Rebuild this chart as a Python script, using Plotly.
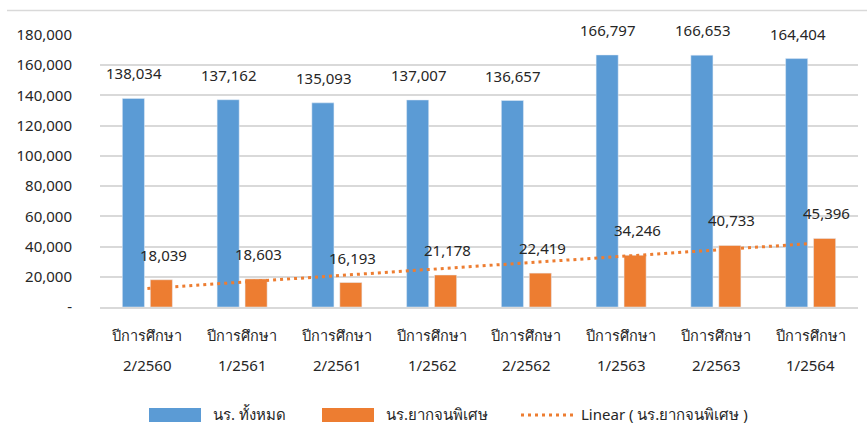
import numpy as np
import plotly.graph_objects as go

# ---- data ----
term_prefix = "ปีการศึกษา"
terms = ["2/2560", "1/2561", "2/2561", "1/2562", "2/2562", "1/2563", "2/2563", "1/2564"]
total_students = [138034, 137162, 135093, 137007, 136657, 166797, 166653, 164404]
poor_students = [18039, 18603, 16193, 21178, 22419, 34246, 40733, 45396]
y_tickvals = [0, 20000, 40000, 60000, 80000, 100000, 120000, 140000, 160000, 180000]
y_ticktext = ["-", "20,000", "40,000", "60,000", "80,000", "100,000", "120,000", "140,000", "160,000", "180,000"]
legend_names = ["นร. ทั้งหมด", "นร.ยากจนพิเศษ", "Linear ( นร.ยากจนพิเศษ )"]

BLUE = "#5B9BD5"
ORANGE = "#ED7D31"
TXT = "#262626"
FONT = "Noto Sans, DejaVu Sans, sans-serif"

# linear trend (least squares, like Excel's linear trendline)
xi = np.arange(1, len(poor_students) + 1)
slope, intercept = np.polyfit(xi, np.array(poor_students, dtype=float), 1)
trend = slope * xi + intercept

W, H = 867, 443
ML, MR, MT, MB = 100, 9, 35, 136
pw, ph = W - ML - MR, H - MT - MB


def px(x):
    return (x - ML) / pw


def py(y):
    return (H - MB - y) / ph


fig = go.Figure()
fig.add_trace(go.Bar(x=terms, y=total_students, name=legend_names[0],
                     marker=dict(color=BLUE), showlegend=False))
fig.add_trace(go.Bar(x=terms, y=poor_students, name=legend_names[1],
                     marker=dict(color=ORANGE), showlegend=False))
fig.add_trace(go.Scatter(x=terms, y=trend, mode="lines", name=legend_names[2],
                         line=dict(color=ORANGE, width=3, dash="3px,4px"),
                         showlegend=False))

ann = []
for t, v in zip(terms, total_students):
    ann.append(dict(x=t, y=v, xref="x", yref="y", text=f"{v:,}", showarrow=False,
                    xshift=-13, yshift=25, yanchor="middle",
                    font=dict(size=15, color=TXT, family=FONT)))
for t, v in zip(terms, poor_students):
    ann.append(dict(x=t, y=v, xref="x", yref="y", text=f"{v:,}", showarrow=False,
                    xshift=16, yshift=25, yanchor="middle",
                    font=dict(size=15, color=TXT, family=FONT)))
# two-line category labels
for t in terms:
    ann.append(dict(x=t, y=0, xref="x", yref="paper", text=term_prefix, showarrow=False,
                    yshift=-28, yanchor="middle",
                    font=dict(size=14.5, color=TXT, family=FONT)))
    ann.append(dict(x=t, y=0, xref="x", yref="paper", text=t, showarrow=False,
                    yshift=-58, yanchor="middle",
                    font=dict(size=15, color=TXT, family=FONT)))

# manual legend
shapes = [
    dict(type="rect", xref="paper", yref="paper", x0=px(149), x1=px(201), y0=py(422), y1=py(408),
         fillcolor=BLUE, line=dict(width=0)),
    dict(type="rect", xref="paper", yref="paper", x0=px(322), x1=px(374), y0=py(422), y1=py(408),
         fillcolor=ORANGE, line=dict(width=0)),
    dict(type="line", xref="paper", yref="paper", x0=px(521), x1=px(573), y0=py(415), y1=py(415),
         line=dict(color=ORANGE, width=3, dash="3px,4px")),
    dict(type="line", xref="paper", yref="paper", x0=px(7), x1=px(867), y0=py(10.5), y1=py(10.5),
         line=dict(color="#D9D9D9", width=1.5)),
]
for xpos, name in zip([211, 384, 579], legend_names):
    ann.append(dict(x=px(xpos), y=py(414), xref="paper", yref="paper", text=name,
                    showarrow=False, xanchor="left", yanchor="middle",
                    font=dict(size=15, color=TXT, family=FONT)))

fig.update_layout(
    width=W, height=H,
    margin=dict(l=ML, r=MR, t=MT, b=MB, pad=0),
    paper_bgcolor="white", plot_bgcolor="white",
    barmode="group", bargap=0.41, bargroupgap=0.21,
    font=dict(family=FONT, size=15, color=TXT),
    annotations=ann, shapes=shapes,
    showlegend=False,
)
fig.update_xaxes(showticklabels=False, showgrid=False, zeroline=False,
                 showline=True, linecolor="#D9D9D9", linewidth=1.5)
fig.update_yaxes(range=[0, 180000], tickvals=y_tickvals, ticktext=y_ticktext,
                 showgrid=True, gridcolor="#D9D9D9", gridwidth=1.5, zeroline=False,
                 showline=False, ticks="", ticklabelstandoff=27,
                 tickfont=dict(size=15, color=TXT, family=FONT))

fig.write_html("out.html", config={"displayModeBar": False},
               post_script="document.body.style.margin='0';document.body.style.overflow='hidden';")
